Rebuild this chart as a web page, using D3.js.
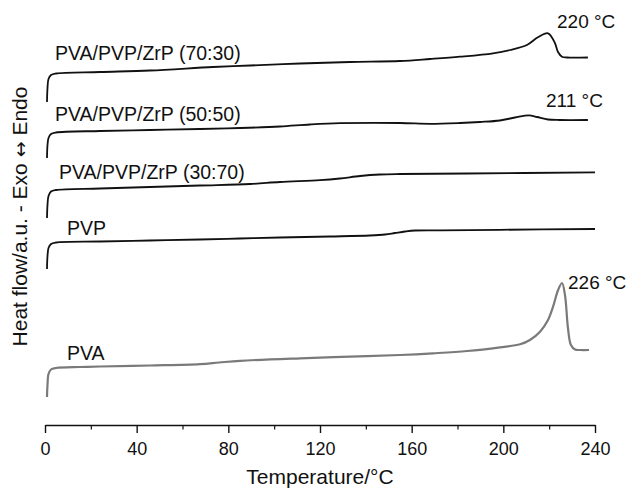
<!DOCTYPE html>
<html>
<head>
<meta charset="utf-8">
<script src="https://cdn.jsdelivr.net/npm/d3@7"></script>
<style>
  html, body { margin: 0; padding: 0; background: #fff; }
  svg { display: block; font-family: "Liberation Sans", Arial, sans-serif; }
</style>
</head>
<body>
<svg id="chart" width="628" height="488"></svg>
<script>
// ---- Data (temperature in °C, heat flow in arbitrary units, curves offset) ----
const xTicks = [0, 40, 80, 120, 160, 200, 240];
const xMinorTicks = [20, 60, 100, 140, 180, 220];

const names = ["PVA/PVP/ZrP (70:30)", "PVA/PVP/ZrP (50:50)", "PVA/PVP/ZrP (30:70)", "PVP", "PVA"];

const t7030 = [0.87,1.09,1.53,2.62,4.8,24,45.8,73.3,89.5,111.3,133.1,154.9,168,181.1,195.5,202.9,210.3,215.1,219.5,222.5,223.8,225.6,227.8,236.9];
const hf7030 = [32.3,33.7,34.6,35.0,35.15,35.3,35.45,35.8,35.95,36.15,36.3,36.4,36.6,36.83,37.17,37.5,38.0,38.77,39.17,38.2,37.33,36.83,36.75,36.75];

const t5050 = [0.87,1.09,1.53,2.62,4.8,24,45.8,67.6,85.1,102.5,115.6,128.7,154.9,168,181.1,189.8,198.5,205.1,211.2,214.7,219.5,224.7,236.9];
const hf5050 = [26.7,28.0,28.7,29.1,29.25,29.4,29.5,29.6,29.7,29.85,30.05,30.18,30.2,30.12,30.2,30.3,30.45,30.75,30.97,30.8,30.55,30.5,30.5];

const t3070 = [0.87,1.09,1.53,2.62,4.8,24,45.8,67.6,89.5,102.5,120,128.7,137.5,146.2,154.9,184.2,240];
const hf3070 = [20.7,22.0,22.9,23.35,23.5,23.65,23.8,23.95,24.1,24.3,24.48,24.65,24.9,25.05,25.1,25.15,25.27];

const tPVP = [0.87,1.09,1.53,2.62,4.8,24,45.8,67.6,85.1,102.5,124.4,141.8,148.4,152.7,157.1,161.5,172.4,198.5,240];
const hfPVP = [15.6,16.9,17.7,18.1,18.25,18.35,18.45,18.55,18.65,18.75,18.85,18.95,19.05,19.2,19.35,19.45,19.47,19.52,19.6];

const tPVA = [0.87,1.09,1.53,2.62,4.8,15.3,24,45.8,67.6,76,85.1,111.3,133.1,154.9,169.3,184.2,198.5,207.3,211.6,216,219.5,221.7,223.9,225.6,226.9,228.2,229.5,231.3,233.5,237.4];
const hfPVA = [2.8,4.0,5.1,5.55,5.7,5.8,5.85,5.95,6.08,6.25,6.42,6.67,6.83,7.0,7.17,7.4,7.77,8.07,8.5,9.33,10.5,11.83,13.5,14.2,13.0,9.7,8.0,7.55,7.5,7.5];

const peakLabels = ["220 °C", "211 °C", "226 °C"];

// ---- Chart ----
const svg = d3.select("#chart");
const x = d3.scaleLinear().domain([0, 240]).range([45, 595]);
const y = d3.scaleLinear().domain([0, 40]).range([425, 25]);

const series = [
  { name: names[0], t: t7030, v: hf7030, color: "#111", lx: 55, dy: -13.5 },
  { name: names[1], t: t5050, v: hf5050, color: "#111", lx: 55, dy: -11.5 },
  { name: names[2], t: t3070, v: hf3070, color: "#111", lx: 59, dy: -11 },
  { name: names[3], t: tPVP, v: hfPVP, color: "#111", lx: 67, dy: -7.5 },
  { name: names[4], t: tPVA, v: hfPVA, color: "#7a7a7a", lx: 67, dy: -8 }
];

const line = d3.line()
  .x(d => x(d[0]))
  .y(d => y(d[1]))
  .curve(d3.curveCatmullRom.alpha(0.5));

series.forEach(s => {
  const pts = s.t.map((t, i) => [t, s.v[i]]);
  svg.append("path")
    .attr("d", line(pts))
    .attr("fill", "none")
    .attr("stroke", s.color)
    .attr("stroke-width", s.color === "#111" ? 1.8 : 2.2)
    .attr("stroke-linejoin", "round");
  svg.append("text")
    .attr("x", s.lx)
    .attr("y", y(s.v[4]) + s.dy)
    .attr("font-size", 19.5)
    .attr("fill", "#111")
    .text(s.name);
});

// Peak annotations
const peakSeries = [series[0], series[1], series[4]];
const peakOffsets = [[9, -5], [17, -8], [6, 6]];
peakSeries.forEach((s, i) => {
  const idx = d3.maxIndex(s.v);
  svg.append("text")
    .attr("x", x(s.t[idx]) + peakOffsets[i][0])
    .attr("y", y(s.v[idx]) + peakOffsets[i][1])
    .attr("font-size", 19)
    .attr("fill", "#111")
    .text(peakLabels[i]);
});

// X axis
const axisG = svg.append("g").attr("transform", "translate(0,425)");
axisG.call(d3.axisBottom(x).tickValues(xTicks).tickFormat(d3.format("d"))
  .tickSize(8).tickSizeOuter(0).tickPadding(9));
axisG.selectAll(".domain").attr("stroke", "#111").attr("stroke-width", 1.4);
axisG.selectAll(".tick line").attr("stroke", "#111").attr("stroke-width", 1.4);
axisG.selectAll(".tick text").attr("font-size", 18).attr("fill", "#111")
  .attr("font-family", "Liberation Sans, Arial, sans-serif");

const minorG = svg.append("g").attr("transform", "translate(0,425)");
minorG.call(d3.axisBottom(x).tickValues(xMinorTicks).tickFormat("").tickSize(4.5).tickSizeOuter(0));
minorG.select(".domain").remove();
minorG.selectAll(".tick line").attr("stroke", "#111").attr("stroke-width", 1.2);

// Axis titles
svg.append("text")
  .attr("x", 320).attr("y", 484)
  .attr("text-anchor", "middle")
  .attr("font-size", 21)
  .attr("fill", "#111")
  .text("Temperature/°C");

const yt = svg.append("text")
  .attr("transform", "translate(27,216.5) rotate(-90)")
  .attr("text-anchor", "middle")
  .attr("font-size", 21)
  .attr("fill", "#111");
yt.append("tspan").text("Heat flow/a.u. - Exo ");
yt.append("tspan").attr("font-family", "DejaVu Sans").attr("font-size", 19).text("\u2194");
yt.append("tspan").text(" Endo");
</script>
</body>
</html>
